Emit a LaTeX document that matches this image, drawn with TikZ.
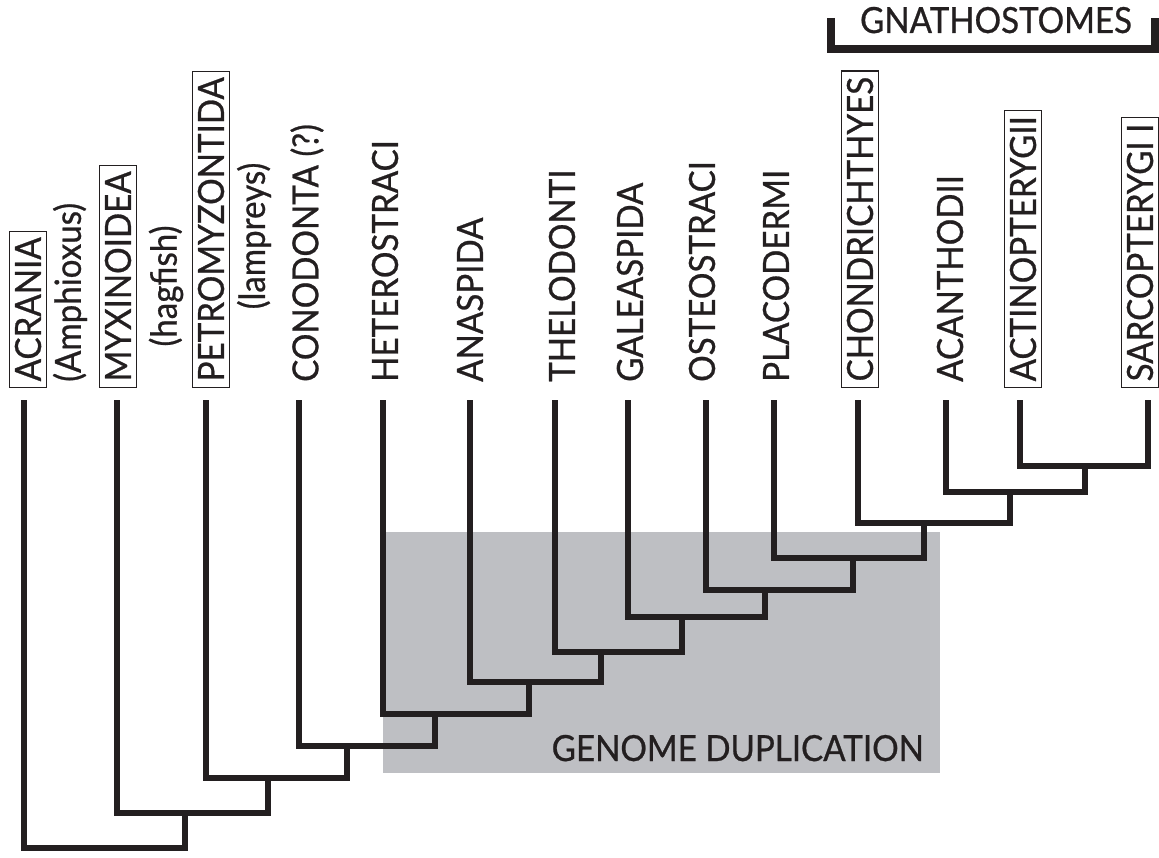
\documentclass[tikz,border=0pt]{standalone}
\usepackage{fontspec}
\setmainfont{Lato}[FakeBold=0.7,FakeStretch=0.92]
\definecolor{ink}{HTML}{231F20}
\definecolor{dupgray}{HTML}{BEBFC3}
\begin{document}
\begin{tikzpicture}[x=1pt,y=-1pt,
  lab/.style={rotate=90,anchor=west,font=\fontsize{36}{40}\selectfont,text=ink,inner xsep=6pt,inner ysep=5.5pt},
  boxlab/.style={lab,draw=ink,line width=1.3pt},
  branch/.style={draw=ink,line width=5.2pt,line join=miter},
  bracket/.style={draw=ink,line width=8pt,line join=miter},
  title/.style={font=\fontsize{36}{40}\selectfont,text=ink,inner sep=0pt}]
\useasboundingbox (0,0) rectangle (1159,858);
% genome duplication box
\fill[dupgray] (383,532) rectangle (940,773);
\node[title,anchor=base east] (gd) at (924,761) {GENOME DUPLICATION};
% labels
\node[boxlab] (l1) at (28,388) {ACRANIA};
\node[lab] (amph) at (70,388) {(Amphioxus)};
\node[boxlab] (l2) at (118,388) {MYXINOIDEA};
\node[lab,anchor=center] (hag) at (166,286) {(hagfish)};
\node[boxlab] (l3) at (211,388) {PETROMYZONTIDA};
\node[lab,anchor=center] (lam) at (254,236) {(lampreys)};
\node[lab] (l4) at (307,388) {CONODONTA (?)};
\node[lab] (l5) at (385,388) {HETEROSTRACI};
\node[lab] (l6) at (470,388) {ANASPIDA};
\node[lab] (l7) at (562,388) {THELODONTI};
\node[lab] (l8) at (630,388) {GALEASPIDA};
\node[lab] (l9) at (702,388) {OSTEOSTRACI};
\node[lab] (l10) at (776,388) {PLACODERMI};
\node[boxlab] (l11) at (860,388) {CHONDRICHTHYES};
\node[lab] (l12) at (950,388) {ACANTHODII};
\node[boxlab] (l13) at (1023,388) {ACTINOPTERYGII};
\node[boxlab] (l14) at (1140,388) {SARCOPTERYGI I};
% gnathostomes bracket
\node[title,anchor=base] (gn) at (996,33) {GNATHOSTOMES};
\coordinate (g1) at (831,18);
\coordinate (g2) at (1155,49);
\coordinate (g3) at (1155,18);
\draw[bracket] (g1) |- (g2) -- (g3);
% tips
\coordinate (t1) at (24,400);
\coordinate (t2) at (117,400);
\coordinate (t3) at (206,400);
\coordinate (t4) at (299,400);
\coordinate (t5) at (383,400);
\coordinate (t6) at (470,400);
\coordinate (t7) at (555,400);
\coordinate (t8) at (628,400);
\coordinate (t9) at (706,400);
\coordinate (t10) at (774,400);
\coordinate (t11) at (858,400);
\coordinate (t12) at (946,400);
\coordinate (t13) at (1020,400);
\coordinate (t14) at (1148,400);
% bar right ends
\coordinate (b1) at (185,848);
\coordinate (b2) at (268,813);
\coordinate (b3) at (347,778);
\coordinate (b4) at (435,746);
\coordinate (b5) at (529,714);
\coordinate (b6) at (601,682);
\coordinate (b7) at (682,652);
\coordinate (b8) at (765,617);
\coordinate (b9) at (853,590);
\coordinate (b10) at (924,558);
\coordinate (b11) at (1010,523);
\coordinate (b12) at (1085,492);
\coordinate (b13) at (1148,466);
\draw[branch] (t1) |- (b1) -- (b1 |- b2);
\draw[branch] (t2) |- (b2) -- (b2 |- b3);
\draw[branch] (t3) |- (b3) -- (b3 |- b4);
\draw[branch] (t4) |- (b4) -- (b4 |- b5);
\draw[branch] (t5) |- (b5) -- (b5 |- b6);
\draw[branch] (t6) |- (b6) -- (b6 |- b7);
\draw[branch] (t7) |- (b7) -- (b7 |- b8);
\draw[branch] (t8) |- (b8) -- (b8 |- b9);
\draw[branch] (t9) |- (b9) -- (b9 |- b10);
\draw[branch] (t10) |- (b10) -- (b10 |- b11);
\draw[branch] (t11) |- (b11) -- (b11 |- b12);
\draw[branch] (t12) |- (b12) -- (b12 |- b13);
\draw[branch] (t13) |- (b13) -- (t14);
\end{tikzpicture}
\end{document}
